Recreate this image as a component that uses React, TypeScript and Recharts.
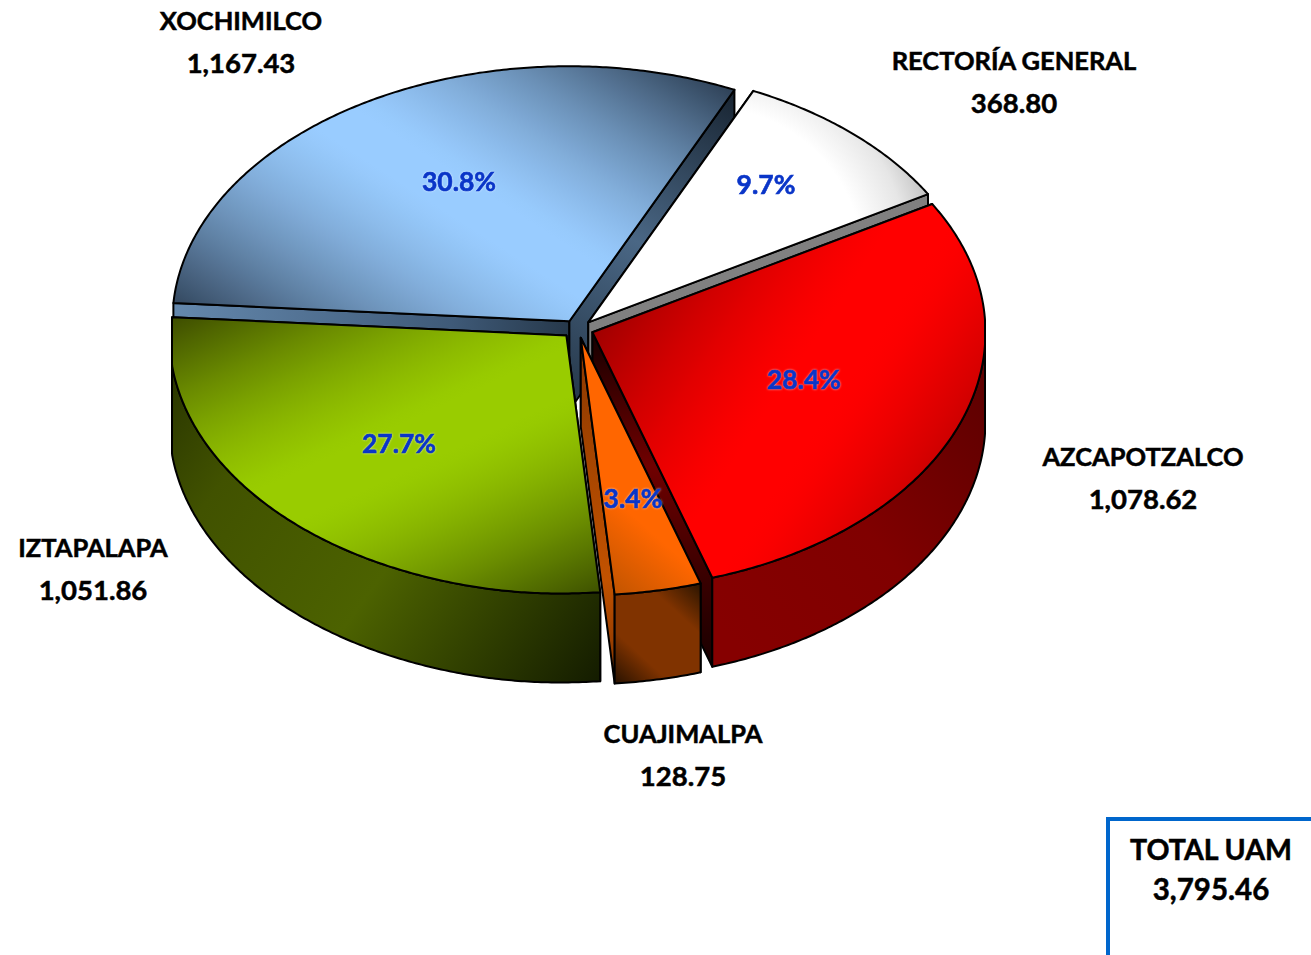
import React from "react";
import { PieChart, Pie } from "recharts";

const categories = ["XOCHIMILCO", "RECTORÍA GENERAL", "AZCAPOTZALCO", "CUAJIMALPA", "IZTAPALAPA"];
const amounts = [1167.43, 368.8, 1078.62, 128.75, 1051.86];
const totalLabel = "TOTAL UAM";
const totalValue = 3795.46;

const rows = categories.map((name, i) => ({ name, value: amounts[i] }));

const W = 1311, H = 955;
const CX = 577.5, CY = 329, RX = 397;
const RIGHT_SCALE = 0.99;
const RY_BACK = 255, RY_FRONT = 258;
const EXP_X = 16, EXP_Y = 9;
const DEPTH = 89;
const MIN_X = 172, MAX_X = 985;
const START = -184.1;
const NEAR_SHIFT = 6;
const FONT = "Lato, 'Open Sans', sans-serif";

type Stop = [number, string];
type Grad = { a: [number, number]; b: [number, number]; stops: Stop[] };
type Radial = { c: [number, number]; r: number; stops: Stop[] };
type Look = { top: Grad | Radial; outer: Grad; start: Grad; end: Grad };

const hex = (c: string) => [1, 3, 5].map((i) => parseInt(c.slice(i, i + 2), 16));
const mix = (a: string, b: string, t: number) => {
  const x = hex(a), y = hex(b);
  return `rgb(${x.map((v, i) => Math.round(v + (y[i] - v) * t)).join(",")})`;
};
// A dark-bright-dark colour band whose bright middle eases in softly.
const band = (d0: string, bright: string, d1: string, lo: number, hi: number): Stop[] => {
  const out: Stop[] = [];
  const ease = (t: number) => 0.5 * t + 0.5 * (1 - Math.cos((t * Math.PI) / 2));
  for (let i = 0; i <= 40; i++) {
    const o = i / 40;
    if (o < lo) out.push([o, mix(bright, d0, ease((lo - o) / lo))]);
    else if (o > hi) out.push([o, mix(bright, d1, ease((o - hi) / (1 - hi)))]);
    else out.push([o, bright]);
  }
  return out;
};

const looks: Record<string, Look> = {
  XOCHIMILCO: {
    top: { a: [301, 395], b: [566, -17], stops: band("#2f4258", "#99ccff", "#2f4258", 0.47, 0.56) },
    outer: { a: [175, 300], b: [600, 300], stops: [[0, "#5b7fa2"], [1, "#2a3b4d"]] },
    start: { a: [175, 310], b: [570, 330], stops: [[0, "#6488ad"], [0.7, "#3f5a78"], [1, "#26384a"]] },
    end: { a: [570, 400], b: [735, 100], stops: [[0, "#26384a"], [0.5, "#4a6785"], [1, "#1a2735"]] },
  },
  "RECTORÍA GENERAL": {
    top: { c: [705, 265], r: 240, stops: [[0, "#ffffff"], [0.66, "#ffffff"], [0.85, "#e6e6e6"], [1, "#bcbcbc"]] },
    outer: { a: [750, 100], b: [930, 200], stops: [[0, "#808080"], [1, "#808080"]] },
    start: { a: [590, 320], b: [930, 200], stops: [[0, "#808080"], [1, "#808080"]] },
    end: { a: [590, 320], b: [930, 200], stops: [[0, "#808080"], [1, "#808080"]] },
  },
  AZCAPOTZALCO: {
    top: { a: [634, 270], b: [966, 490], stops: band("#a00000", "#ff0000", "#b40000", 0.47, 0.62) },
    outer: { a: [714, 620], b: [985, 400], stops: [[0, "#860000"], [0.5, "#800000"], [1, "#600000"]] },
    start: { a: [592, 330], b: [932, 203], stops: [[0, "#800000"], [1, "#800000"]] },
    end: { a: [592, 330], b: [592, 670], stops: [[0, "#140000"], [0.4, "#700000"], [0.72, "#3a0000"], [1, "#180000"]] },
  },
  CUAJIMALPA: {
    top: { a: [606, 590], b: [655, 535], stops: [[0, "#c05400"], [1, "#ff6600"]] },
    outer: { a: [612, 683], b: [702, 585], stops: [[0, "#241000"], [0.3, "#803300"], [0.72, "#803300"], [1, "#2a1400"]] },
    start: { a: [580, 340], b: [700, 580], stops: [[0, "#803300"], [1, "#803300"]] },
    end: { a: [580, 340], b: [612, 683], stops: [[0, "#8a3800"], [0.7, "#c25200"], [1, "#803300"]] },
  },
  IZTAPALAPA: {
    top: { a: [328, 240], b: [512, 640], stops: band("#3a4800", "#99cc00", "#3a4c00", 0.44, 0.56) },
    outer: { a: [172, 370], b: [600, 680], stops: [[0, "#2a3600"], [0.2, "#415200"], [0.55, "#4c6200"], [1, "#141c00"]] },
    start: { a: [172, 318], b: [566, 335], stops: [[0, "#2a3600"], [1, "#2a3600"]] },
    end: { a: [566, 335], b: [600, 595], stops: [[0, "#2a3600"], [1, "#2a3600"]] },
  },
};

const percentAt: Record<string, [number, number]> = {
  XOCHIMILCO: [459, 181],
  "RECTORÍA GENERAL": [766, 184],
  AZCAPOTZALCO: [804, 379],
  CUAJIMALPA: [633, 498],
  IZTAPALAPA: [399, 443],
};
const nameAt: Record<string, [number, number]> = {
  XOCHIMILCO: [241, 20],
  "RECTORÍA GENERAL": [1014, 60],
  AZCAPOTZALCO: [1143, 456],
  CUAJIMALPA: [683, 733],
  IZTAPALAPA: [93, 547],
};

const money = (v: number) => v.toLocaleString("en-US", { minimumFractionDigits: 2, maximumFractionDigits: 2 });
const rad = (d: number) => (d * Math.PI) / 180;

function gradientNode(id: string, g: Grad | Radial) {
  const stops = g.stops.map(([o, c], i) => <stop key={i} offset={o} stopColor={c} />);
  if ("c" in g) {
    return (
      <radialGradient id={id} gradientUnits="userSpaceOnUse" cx={g.c[0]} cy={g.c[1]} r={g.r}>
        {stops}
      </radialGradient>
    );
  }
  return (
    <linearGradient id={id} gradientUnits="userSpaceOnUse" x1={g.a[0]} y1={g.a[1]} x2={g.b[0]} y2={g.b[1]}>
      {stops}
    </linearGradient>
  );
}

function Slice3D(props: any) {
  const { cx, cy, outerRadius, startAngle, endAngle, midAngle, name, payload } = props;
  const key: string = name ?? payload?.name;
  const look = looks[key];
  const ox = cx + EXP_X * Math.cos(rad(midAngle));
  const oy = cy - EXP_Y * Math.sin(rad(midAngle));
  const pt = (a: number): [number, number] => {
    const s = Math.sin(rad(a));
    const c = Math.cos(rad(a));
    const near = s < 0 ? Math.pow(-s, 40) * NEAR_SHIFT : 0;
    const x = ox + outerRadius * c * (c > 0 ? RIGHT_SCALE : 1) - near;
    const y = oy - (s > 0 ? RY_BACK : RY_FRONT) * s;
    return [Math.min(MAX_X, Math.max(MIN_X, x)), y];
  };
  const n = Math.max(8, Math.ceil(Math.abs(endAngle - startAngle) * 2));
  const angles: number[] = [];
  for (let i = 0; i <= n; i++) angles.push(startAngle + ((endAngle - startAngle) * i) / n);
  const arc = angles.map(pt);
  const frontArc = angles.filter((a) => Math.sin(rad(a)) <= 0).map(pt);
  const poly = (p: [number, number][]) => "M" + p.map((q) => `${q[0].toFixed(2)},${q[1].toFixed(2)}`).join("L") + "Z";
  const down = (p: [number, number]): [number, number] => [p[0], p[1] + DEPTH];
  const apex: [number, number] = [ox, oy];
  const first = arc[0], last = arc[arc.length - 1];
  const id = key.replace(/[^A-Z]/g, "");
  const line = { stroke: "#000", strokeWidth: 2, strokeLinejoin: "round" as const };
  return (
    <g>
      <defs>
        {gradientNode(id + "top", look.top)}
        {gradientNode(id + "outer", look.outer)}
        {gradientNode(id + "start", look.start)}
        {gradientNode(id + "end", look.end)}
      </defs>
      <path d={poly([apex, first, down(first), down(apex)])} fill={`url(#${id}start)`} {...line} />
      <path d={poly([apex, last, down(last), down(apex)])} fill={`url(#${id}end)`} {...line} />
      {frontArc.length > 1 && (
        <path d={poly([...frontArc, ...frontArc.map(down).reverse()])} fill={`url(#${id}outer)`} {...line} />
      )}
      <path d={poly([apex, ...arc])} fill={`url(#${id}top)`} {...line} />
    </g>
  );
}

function SliceLabel(props: any) {
  const key: string = props.name ?? props.payload?.name;
  const value: number = props.value ?? props.payload?.value;
  const [px, py] = percentAt[key];
  const [nx, ny] = nameAt[key];
  const big = { textAnchor: "middle" as const, dominantBaseline: "central" as const, fontFamily: FONT, fontWeight: 700 };
  return (
    <g>
      <text
        x={px}
        y={py}
        {...big}
        fontSize={26.5}
        fill="#0a35c8"
        stroke="#0a35c8"
        strokeWidth={0.6}
        style={{ filter: "drop-shadow(0 0 1px rgba(255,255,255,0.7))" }}
      >
        {(props.percent * 100).toFixed(1)}%
      </text>
      <text x={nx} y={ny} {...big} fontSize={25.5} fill="#000" stroke="#000" strokeWidth={0.5}>{key}</text>
      <text x={nx} y={ny + 42} {...big} fontSize={27.5} fill="#000" stroke="#000" strokeWidth={0.5}>{money(value)}</text>
    </g>
  );
}

export default function App() {
  return (
    <div style={{ position: "absolute", left: 0, top: 0, width: W, height: H, overflow: "hidden", background: "#fff" }}>
      <PieChart width={W} height={H} margin={{ top: 0, right: 0, bottom: 0, left: 0 }}>
        <Pie
          data={rows}
          dataKey="value"
          nameKey="name"
          cx={CX}
          cy={CY}
          innerRadius={0}
          outerRadius={RX}
          startAngle={START}
          endAngle={START - 360}
          isAnimationActive={false}
          shape={Slice3D}
          label={SliceLabel}
          labelLine={false}
          stroke="none"
        />
      </PieChart>
      <div style={{ position: "absolute", left: 1106, top: 817, width: 300, height: 300, borderLeft: "4px solid #0066cc", borderTop: "4px solid #0066cc" }} />
      <div style={{ position: "absolute", left: 1111, top: 830, width: 200, textAlign: "center", fontFamily: FONT, fontWeight: 700, fontSize: 28.5, lineHeight: "39px", color: "#000", WebkitTextStroke: "0.5px #000" }}>
        <div>{totalLabel}</div>
        <div style={{ fontSize: 29.5 }}>{money(totalValue)}</div>
      </div>
    </div>
  );
}
